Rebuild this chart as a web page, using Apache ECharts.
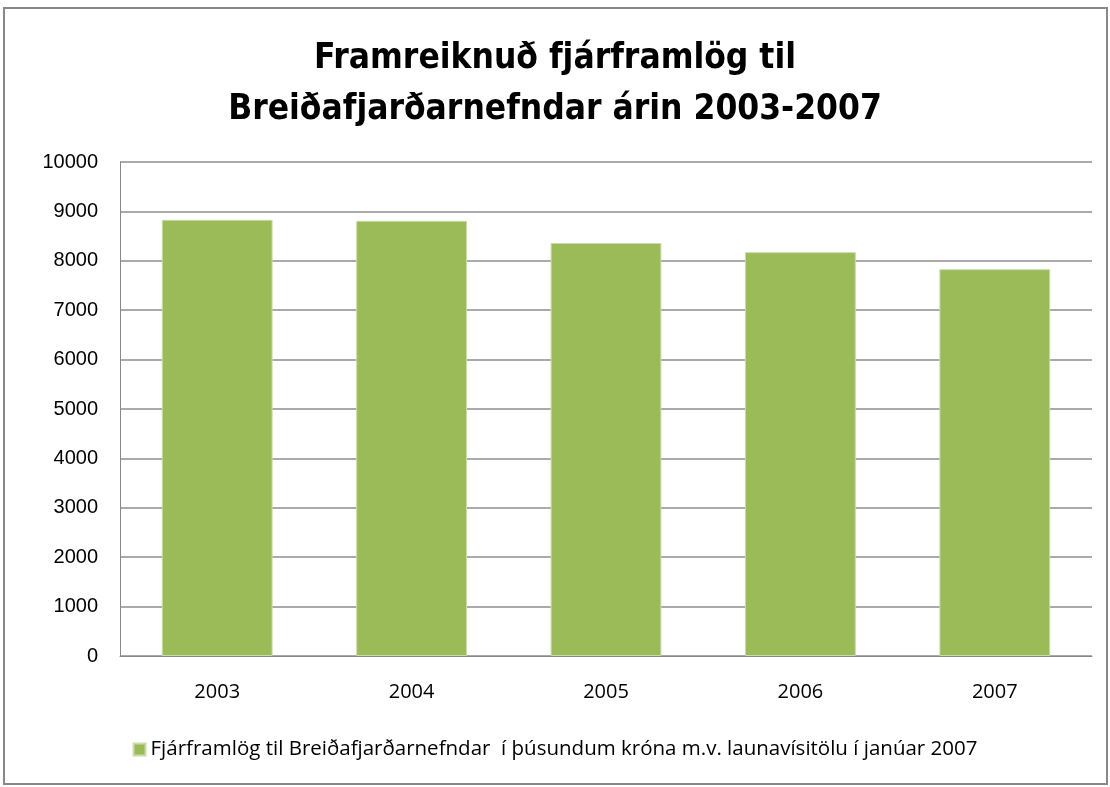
<!DOCTYPE html>
<html>
<head>
<meta charset="utf-8">
<script src="https://cdn.jsdelivr.net/npm/echarts@6/dist/echarts.min.js"></script>
<style>
html, body { margin: 0; padding: 0; background: #fff; }
#main { width: 1110px; height: 787px; }
</style>
</head>
<body>
<div id="main"></div>
<script>
// data
var years = ['2003', '2004', '2005', '2006', '2007'];
var framlog = [8830, 8810, 8360, 8175, 7830];
var seriesName = 'Fjárframlög til Breiðafjarðarnefndar  í þúsundum króna m.v. launavísitölu í janúar 2007';
var titleText = 'Framreiknuð fjárframlög til\nBreiðafjarðarnefndar árin 2003-2007';

var narrow = '"Liberation Sans Narrow", "DejaVu Sans Condensed", "Noto Sans", sans-serif';

var myChart = echarts.init(document.getElementById('main'));
var option = {
    backgroundColor: '#fff',
    animation: false,
    title: {
        text: titleText,
        left: 'center',
        top: 28,
        textStyle: {
            fontFamily: narrow,
            fontWeight: 'bold',
            fontSize: 35,
            lineHeight: 51,
            color: '#000'
        }
    },
    // ramminn utan um
    graphic: [{
        type: 'rect',
        shape: { x: 4, y: 8, width: 1103, height: 776 },
        style: { fill: 'none', stroke: '#888', lineWidth: 2 }
    }],
    legend: {
        bottom: 22,
        left: 'center',
        itemWidth: 12,
        itemHeight: 12,
        icon: 'rect',
        itemGap: 6,
        textStyle: { fontFamily: '"Open Sans", sans-serif', fontSize: 20.5, color: '#000' },
        data: [seriesName]
    },
    grid: { left: 120, right: 18, top: 162, bottom: 131 },
    xAxis: {
        type: 'category',
        data: years,
        axisLine: { lineStyle: { color: '#888', width: 1 } },
        axisTick: { show: false },
        axisLabel: { color: '#000', fontFamily: '"Open Sans", sans-serif', fontSize: 20, margin: 26 }
    },
    yAxis: {
        type: 'value',
        min: 0,
        max: 10000,
        interval: 1000,
        axisLine: { show: true, lineStyle: { color: '#888', width: 1 } },
        axisTick: { show: false },
        splitLine: { lineStyle: { color: '#aaa', width: 2 } },
        axisLabel: {
            color: '#000',
            fontFamily: '"Liberation Sans", Arial, sans-serif',
            fontSize: 20,
            margin: 22,
            formatter: function (value) { return String(value); }
        }
    },
    series: [{
        name: seriesName,
        type: 'bar',
        data: framlog,
        barCategoryGap: '43%',
        itemStyle: { color: '#9bbb59', borderColor: '#c9dcaa', borderWidth: 1 }
    }]
};
myChart.setOption(option);
</script>
</body>
</html>
